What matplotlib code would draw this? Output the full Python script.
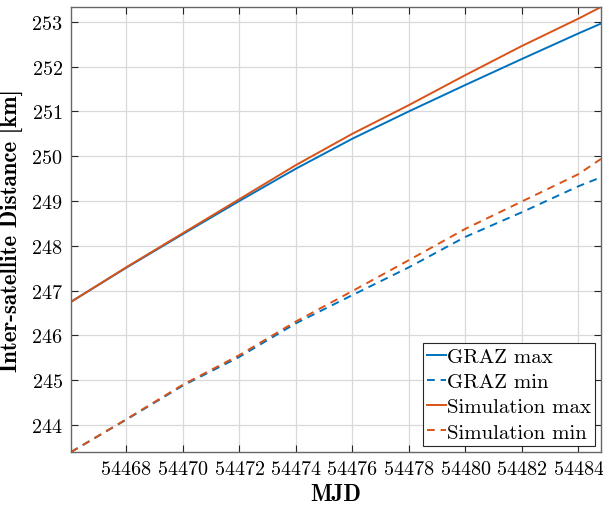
import numpy as np
import matplotlib
matplotlib.use('Agg')
import matplotlib.pyplot as plt

plt.rcParams['font.family'] = ['cmr10', 'DejaVu Serif']
plt.rcParams['axes.formatter.use_mathtext'] = True
plt.rcParams['mathtext.fontset'] = 'cm'

### values
mjd = [54466.05, 54468, 54470, 54472, 54474, 54476, 54478, 54480, 54482, 54484, 54484.8]
graz_max = [246.75, 247.51, 248.26, 249.00, 249.72, 250.39, 251.00, 251.59, 252.17, 252.74, 252.96]
sim_max  = [246.75, 247.52, 248.28, 249.04, 249.80, 250.50, 251.14, 251.81, 252.46, 253.07, 253.33]
graz_min = [243.40, 244.12, 244.88, 245.52, 246.27, 246.90, 247.52, 248.20, 248.75, 249.33, 249.53]
sim_min  = [243.40, 244.13, 244.90, 245.56, 246.31, 246.99, 247.68, 248.38, 248.99, 249.60, 249.94]

xticks = np.arange(54468, 54485, 2)
yticks = np.arange(244, 254, 1)

blue = '#0072BD'
orange = '#D95319'

fig = plt.figure(figsize=(6.03, 5.06), dpi=100)
ax = fig.add_axes([0.1177, 0.1047, 0.879, 0.8795])

lw = 1.4
ax.plot(mjd, graz_max, color=blue, lw=lw, label='GRAZ max')
ax.plot(mjd, graz_min, color=blue, lw=lw, dashes=(4, 3), label='GRAZ min')
ax.plot(mjd, sim_max, color=orange, lw=lw, label='Simulation max')
ax.plot(mjd, sim_min, color=orange, lw=lw, dashes=(4, 3), label='Simulation min')

ax.set_xlim(mjd[0], mjd[-1])
ax.set_ylim(243.40, 253.33)
ax.set_xticks(xticks)
ax.set_yticks(yticks)
ax.grid(True, color='0.85', lw=0.9)
ax.set_axisbelow(True)
ax.tick_params(direction='in', top=True, right=True, labelsize=14.5, length=5,
               color='0.15', width=0.8, pad=6)
for s in ax.spines.values():
    s.set_color('0.4')
    s.set_linewidth(1.0)

ax.set_xlabel('MJD', fontsize=16.5, fontfamily='cmb10', labelpad=3)
ax.set_ylabel('Inter-satellite Distance [km]', fontsize=16.5, fontfamily='cmb10', labelpad=5)

leg = ax.legend(loc='lower right', fontsize=15, handlelength=0.9, handletextpad=0.05,
                borderpad=0.2, labelspacing=0.32, borderaxespad=0.3, fancybox=False,
                framealpha=1, edgecolor='0.15')
leg.get_frame().set_linewidth(0.8)

fig.savefig('out.png', dpi=100)
